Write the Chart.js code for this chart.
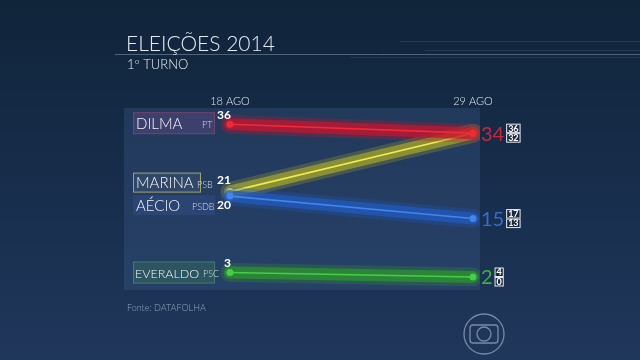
<!DOCTYPE html>
<html><head><meta charset="utf-8">
<script src="https://cdn.jsdelivr.net/npm/chart.js@4"></script>
<style>html,body{margin:0;padding:0;background:#152a40;}canvas{display:block;}</style>
</head><body>
<canvas id="c" width="640" height="360"></canvas>
<script>
const dates = ["18 AGO", "29 AGO"];
const candidates = ["DILMA", "MARINA", "AÉCIO", "EVERALDO"];
const parties = ["PT", "PSB", "PSDB", "PSC"];
const dilma = [36, 34];
const marina = [21, 34];
const aecio = [20, 15];
const everaldo = [3, 2];
const marginHigh = [36, 36, 17, 4];
const marginLow = [32, 32, 13, 0];

const series = [dilma, marina, aecio, everaldo];
const core = ["#f02a3a", "#eeee48", "#3f86f0", "#44d044"];
const band = ["rgba(200,20,45,0.72)", "rgba(165,165,45,0.72)", "rgba(35,90,190,0.72)", "rgba(45,150,45,0.72)"];
const glow = ["rgba(200,20,45,0.28)", "rgba(165,165,45,0.28)", "rgba(35,90,190,0.28)", "rgba(45,150,45,0.28)"];
const drawOrder = [1, 3, 2, 2]; // lower draws on top

const datasets = [];
series.forEach((s, i) => {
  const pts = s.map((v, k) => ({x: k, y: v}));
  datasets.push({data: pts, borderColor: glow[i], borderWidth: 19, borderCapStyle: 'round', pointRadius: 0, order: drawOrder[i]*10+3});
  datasets.push({data: pts, borderColor: band[i], borderWidth: 12, borderCapStyle: 'round', pointRadius: 0, order: drawOrder[i]*10+2});
  datasets.push({data: pts, borderColor: core[i], borderWidth: 1.6, pointRadius: 3.5, pointBorderWidth: 0, pointBackgroundColor: core[i], order: drawOrder[i]*10+1});
});

const LF = "Lato, 'Open Sans', sans-serif";

const deco = {
  id: 'deco',
  beforeDraw(chart) {
    const ctx = chart.ctx, a = chart.chartArea;
    const g = ctx.createLinearGradient(0, 0, 0, 360);
    g.addColorStop(0, '#10243a');
    g.addColorStop(0.5, '#172d4b');
    g.addColorStop(1, '#20375c');
    ctx.fillStyle = g; ctx.fillRect(0, 0, 640, 360);
    // panel
    ctx.fillStyle = 'rgba(70,100,150,0.28)';
    ctx.fillRect(a.left, a.top, a.right - a.left, a.bottom - a.top + 4);
    // header lines
    ctx.strokeStyle = 'rgba(150,175,200,0.45)'; ctx.lineWidth = 1;
    ctx.beginPath(); ctx.moveTo(115, 54.5); ctx.lineTo(640, 54.5); ctx.stroke();
    ctx.strokeStyle = 'rgba(120,150,180,0.18)';
    ctx.beginPath(); ctx.moveTo(400, 41.5); ctx.lineTo(640, 41.5); ctx.stroke();
    ctx.beginPath(); ctx.moveTo(425, 50.5); ctx.lineTo(640, 50.5); ctx.stroke();
    ctx.beginPath(); ctx.moveTo(350, 57.5); ctx.lineTo(640, 57.5); ctx.stroke();
    // titles
    ctx.fillStyle = '#e4ebf2'; ctx.textBaseline = 'alphabetic'; ctx.textAlign = 'left';
    ctx.font = "300 21px " + LF; ctx.fillText("ELEIÇÕES 2014", 126, 51);
    ctx.font = "300 13px " + LF; ctx.fillText("1º TURNO", 127, 69);
    // date labels
    const xs = chart.scales.x;
    ctx.font = "300 11px " + LF; ctx.textAlign = 'center'; ctx.fillStyle = '#dfe6ee';
    dates.forEach((d, k) => ctx.fillText(d, xs.getPixelForValue(k), 105));
    // source
    ctx.textAlign = 'left'; ctx.font = "300 9px " + LF; ctx.fillStyle = '#8fa3c0';
    ctx.fillText("Fonte: DATAFOLHA", 127, 311);
    // name boxes
    const ys = chart.scales.y;
    const boxOff = [-1, -9, 9, 0];
    const boxFill = ['rgba(95,70,130,0.45)', 'rgba(60,80,110,0.55)', 'rgba(50,80,140,0.45)', 'rgba(50,110,90,0.45)'];
    const boxStroke = ['rgba(150,70,110,0.6)', 'rgba(170,175,110,0.9)', null, 'rgba(80,150,110,0.6)'];
    const boxW = [82, 68, 82, 82];
    const boxH = [22, 20, 20, 22];
    candidates.forEach((n, i) => {
      const cy = ys.getPixelForValue(series[i][0]) + boxOff[i];
      ctx.fillStyle = boxFill[i];
      ctx.fillRect(133, cy - boxH[i]/2, boxW[i], boxH[i]);
      if (boxStroke[i]) { ctx.strokeStyle = boxStroke[i]; ctx.lineWidth = 1; ctx.strokeRect(133.5, cy - boxH[i]/2 + 0.5, boxW[i]-1, boxH[i]-1); }
    });
  },
  afterDraw(chart) {
    const ctx = chart.ctx, xs = chart.scales.x, ys = chart.scales.y;
    const boxOff = [-1, -9, 9, 0];
    const nameSize = [15, 15, 15, 12.5];
    const partyX = [202, 197, 192, 203];
    ctx.textBaseline = 'middle'; ctx.textAlign = 'left';
    candidates.forEach((n, i) => {
      const cy = ys.getPixelForValue(series[i][0]) + boxOff[i];
      ctx.fillStyle = '#f2f4f7';
      ctx.font = "300 " + nameSize[i] + "px " + LF;
      ctx.fillText(n, i === 3 ? 135 : 136, cy + 1);
      ctx.font = "300 9px " + LF; ctx.fillStyle = '#d6dde6';
      ctx.fillText(parties[i], partyX[i], cy + 2);
    });
    // start values
    const x0 = xs.getPixelForValue(0);
    const valOff = [-9, -11, 9, -9];
    ctx.font = "bold 12px " + LF; ctx.fillStyle = '#ffffff'; ctx.textAlign = 'right';
    series.forEach((s, i) => {
      ctx.fillText(String(s[0]), x0 + 1, ys.getPixelForValue(s[0]) + valOff[i]);
    });
    // end values
    const x1 = xs.getPixelForValue(1);
    const endIdx = [0, 2, 3];
    const endCol = ['#c8283a', '#2f6fd0', '#3cb43c'];
    endIdx.forEach((i, j) => {
      const v = series[i][1];
      const cy = ys.getPixelForValue(v);
      ctx.font = "400 20px " + LF; ctx.fillStyle = endCol[j]; ctx.textAlign = 'left';
      const txt = String(v);
      ctx.fillText(txt, x1 + 8, cy + 1);
      const w = ctx.measureText(txt).width;
      const bx = x1 + 8 + w + 2;
      ctx.font = "bold 9px " + LF;
      const hi = String(marginHigh[i]), lo = String(marginLow[i]);
      const bw = Math.max(ctx.measureText(hi).width, ctx.measureText(lo).width) + 4;
      [[hi, cy - 5], [lo, cy + 4.5]].forEach(([t, yy]) => {
        ctx.fillStyle = '#1a2a40'; ctx.fillRect(bx, yy - 4.5, bw, 9);
        ctx.strokeStyle = '#e8eef4'; ctx.lineWidth = 1; ctx.strokeRect(bx + 0.5, yy - 4, bw - 1, 8.5);
        ctx.fillStyle = '#ffffff'; ctx.textAlign = 'center';
        ctx.fillText(t, bx + bw/2, yy + 0.5);
      });
    });
    // logo
    ctx.strokeStyle = 'rgba(160,175,200,0.7)'; ctx.lineWidth = 1.3;
    ctx.beginPath(); ctx.arc(484, 334, 20, 0, Math.PI*2); ctx.stroke();
    ctx.beginPath();
    const rx = 470, ry = 325, rw = 28, rh = 18, r = 3;
    ctx.moveTo(rx + r, ry); ctx.lineTo(rx + rw - r, ry); ctx.quadraticCurveTo(rx + rw, ry, rx + rw, ry + r);
    ctx.lineTo(rx + rw, ry + rh - r); ctx.quadraticCurveTo(rx + rw, ry + rh, rx + rw - r, ry + rh);
    ctx.lineTo(rx + r, ry + rh); ctx.quadraticCurveTo(rx, ry + rh, rx, ry + rh - r);
    ctx.lineTo(rx, ry + r); ctx.quadraticCurveTo(rx, ry, rx + r, ry); ctx.stroke();
    ctx.beginPath(); ctx.arc(484, 334, 7, 0, Math.PI*2); ctx.stroke();
  }
};

new Chart(document.getElementById('c'), {
  type: 'line',
  data: {datasets},
  options: {
    responsive: false, devicePixelRatio: 1, animation: false,
    layout: {padding: {left: 124, right: 160, top: 108, bottom: 74}},
    plugins: {legend: {display: false}, tooltip: {enabled: false}},
    scales: {
      x: {type: 'linear', min: -0.436, max: 1.029, display: false},
      y: {min: 0, max: 39.6, display: false}
    },
    elements: {line: {tension: 0}}
  },
  plugins: [deco]
});
</script>
</body></html>
